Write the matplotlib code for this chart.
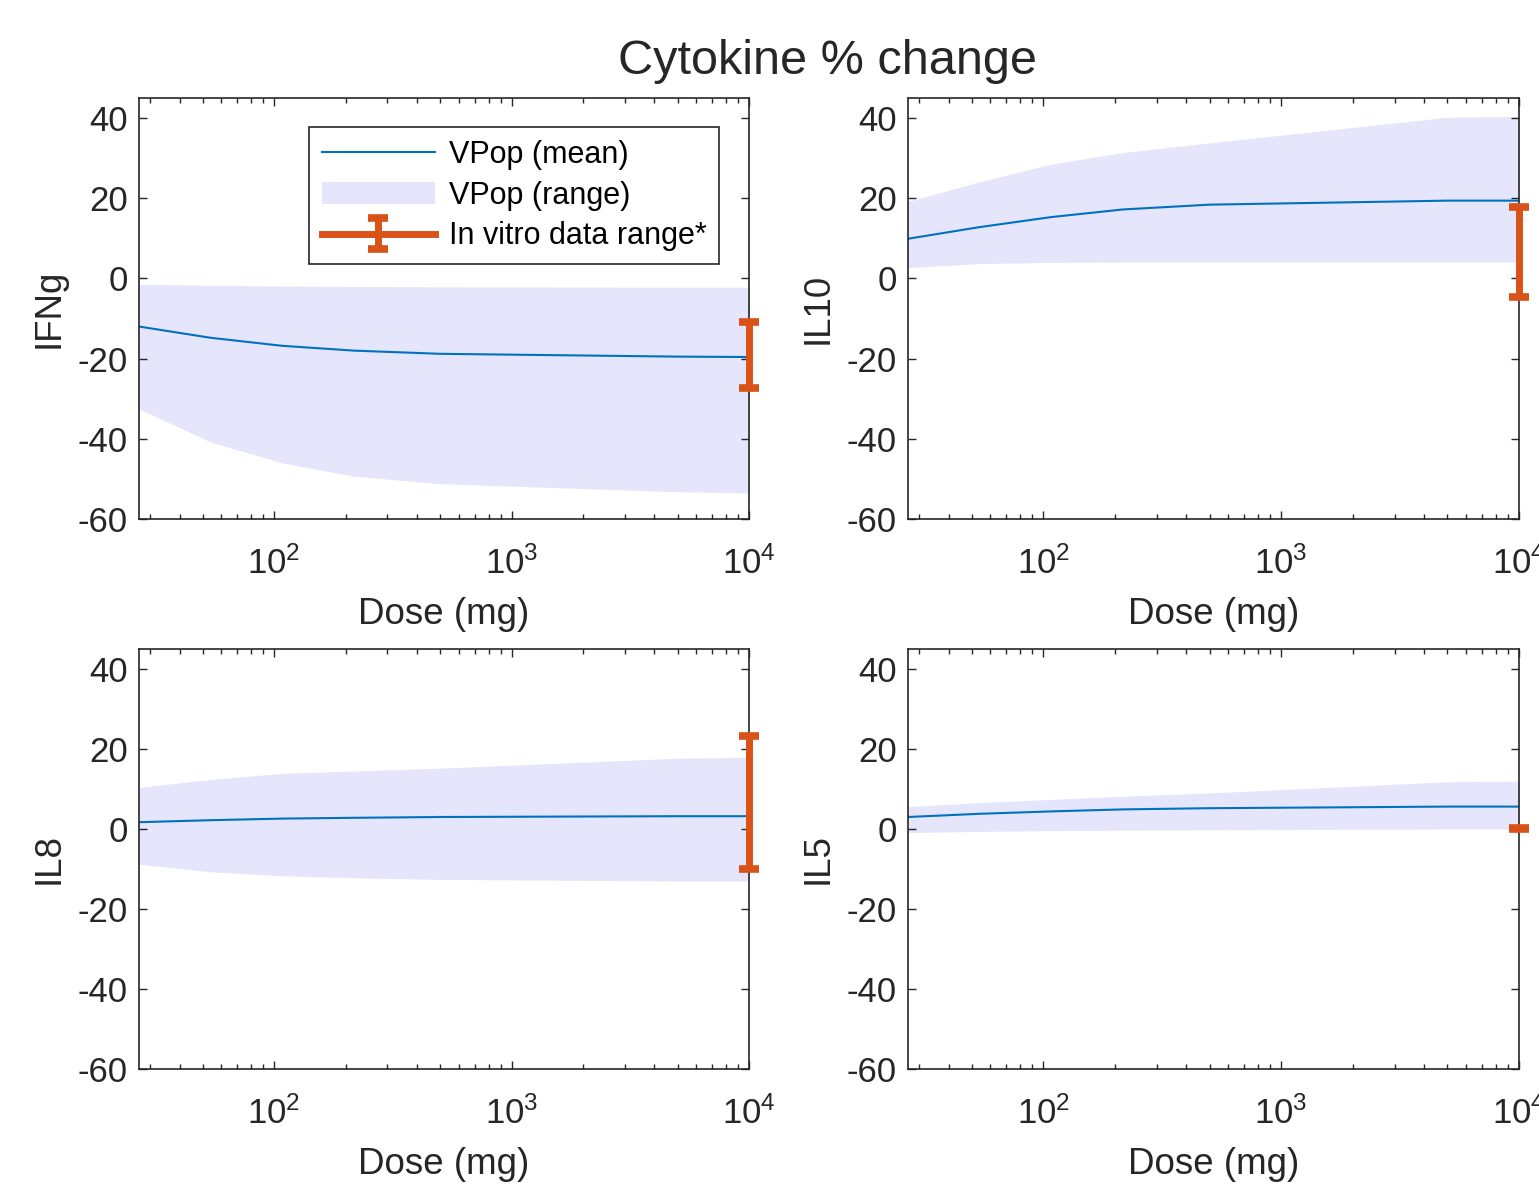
import numpy as np
import matplotlib
matplotlib.use('Agg')
import matplotlib.pyplot as plt

plt.rcParams['font.family'] = ['Liberation Sans', 'DejaVu Sans']
plt.rcParams['mathtext.fontset'] = 'custom'
plt.rcParams['mathtext.rm'] = 'Liberation Sans'
plt.rcParams['axes.unicode_minus'] = False

# dose grid (mg)
doses = [27, 54, 108, 216, 500, 5000, 10000]

cytokines = ['IFNg', 'IL10', 'IL8', 'IL5']

ifng_mean  = [-12.0, -14.8, -16.8, -18.0, -18.8, -19.5, -19.6]
ifng_upper = [-1.5, -1.7, -1.9, -2.0, -2.1, -2.2, -2.2]
ifng_lower = [-32.5, -40.8, -46.0, -49.3, -51.2, -53.2, -53.5]

il10_mean  = [9.9, 12.8, 15.3, 17.2, 18.4, 19.4, 19.4]
il10_upper = [19.2, 24.1, 28.5, 31.4, 33.8, 40.2, 40.4]
il10_lower = [2.7, 3.7, 4.0, 4.1, 4.1, 4.1, 4.1]

il8_mean  = [1.7, 2.2, 2.6, 2.8, 3.0, 3.2, 3.2]
il8_upper = [10.4, 12.4, 13.9, 14.5, 15.2, 17.7, 17.9]
il8_lower = [-8.8, -10.7, -11.7, -12.2, -12.6, -13.0, -13.0]

il5_mean  = [3.0, 3.8, 4.4, 4.9, 5.2, 5.6, 5.6]
il5_upper = [5.6, 6.6, 7.4, 8.2, 9.0, 11.8, 12.0]
il5_lower = [-0.9, -0.6, -0.4, -0.3, -0.2, 0.0, 0.0]

# in vitro data range (low, high) at top dose
invitro_dose = 10000
invitro_low  = [-27.4, -4.7, -10.1, 0.0]
invitro_high = [-10.8, 17.8, 23.3, 0.3]

means  = [ifng_mean, il10_mean, il8_mean, il5_mean]
uppers = [ifng_upper, il10_upper, il8_upper, il5_upper]
lowers = [ifng_lower, il10_lower, il8_lower, il5_lower]

BLUE = '#0072BD'
ORANGE = '#D95319'
BAND = '#E5E5FC'
AXCOL = '#262626'

W, H = 1539, 1184
fig = plt.figure(figsize=(W / 100, H / 100), dpi=100)

# axes boxes in pixels: left, right, top, bottom
boxes = [(139, 749, 98, 519), (908, 1519, 98, 519),
         (139, 749, 649, 1069), (908, 1519, 649, 1069)]

for i, name in enumerate(cytokines):
    l, r, t, b = boxes[i]
    ax = fig.add_axes([l / W, 1 - b / H, (r - l) / W, (b - t) / H])

    ax.fill_between(doses, lowers[i], uppers[i], color=BAND, linewidth=0,
                    label='VPop (range)')
    ax.plot(doses, means[i], color=BLUE, lw=1.5, label='VPop (mean)')
    mid = (invitro_low[i] + invitro_high[i]) / 2.0
    half = (invitro_high[i] - invitro_low[i]) / 2.0
    eb = ax.errorbar([invitro_dose], [mid], yerr=[[half], [half]], fmt='-',
                     color=ORANGE, lw=5, capsize=7, capthick=5.5,
                     label='In vitro data range*', zorder=5)
    for art in eb.get_children():
        art.set_clip_on(False)

    ax.set_xscale('log')
    ax.set_xlim(27, 10000)
    ax.set_ylim(-60, 45)
    ax.set_yticks([-60, -40, -20, 0, 20, 40])
    ax.set_xticks([100, 1000, 10000])

    for s in ax.spines.values():
        s.set_color(AXCOL)
        s.set_linewidth(1.2)
    ax.tick_params(which='both', direction='in', top=True, right=True,
                   colors=AXCOL, labelsize=25, width=1.0)
    ax.tick_params(which='major', length=6)
    ax.tick_params(which='minor', length=3.5)
    ax.tick_params(axis='y', pad=8)
    ax.tick_params(axis='x', pad=20)

    ax.set_xlabel('Dose (mg)', fontsize=26.5, color=AXCOL, labelpad=11)
    ax.set_ylabel(name, fontsize=26.5, color=AXCOL, labelpad=8)

    if i == 0:
        h, lab = ax.get_legend_handles_labels()
        order = [lab.index('VPop (mean)'), lab.index('VPop (range)'),
                 lab.index('In vitro data range*')]
        leg = ax.legend([h[k] for k in order], [lab[k] for k in order],
                        loc='upper right', bbox_to_anchor=(0.951, 0.931),
                        fontsize=22, fancybox=False, framealpha=1,
                        edgecolor=AXCOL, handlelength=3.7, borderpad=0.42,
                        labelspacing=0.35, handletextpad=0.45,
                        borderaxespad=0)
        leg.get_frame().set_linewidth(1.2)

fig.text(828 / W, 1 - 61 / H, 'Cytokine % change', fontsize=35,
         color=AXCOL, ha='center', va='center')

fig.savefig('out.png', dpi=100)
